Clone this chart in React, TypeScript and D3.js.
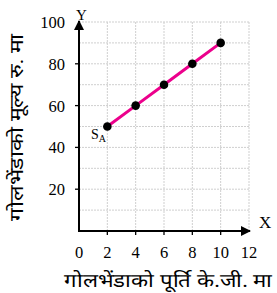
import * as d3 from "d3";
import { useEffect, useRef } from "react";

const supplyKg = [2, 4, 6, 8, 10];
const pricePerKg = [50, 60, 70, 80, 90];
const xTicks = [0, 2, 4, 6, 8, 10, 12];
const yTicks = [20, 40, 60, 80, 100];
const xGrid = [2, 4, 6, 8, 10, 12];
const yGrid = [10, 20, 30, 40, 50, 60, 70, 80, 90, 100];
const xTitle = "गोलभेंडाको पूर्ति के.जी. मा";
const yTitle = "गोलभेंडाको मूल्य रु. मा";

const W = 277;
const H = 293;
const FONT = "'Liberation Serif', 'Times New Roman', serif";

export default function App() {
  const ref = useRef<SVGSVGElement>(null);

  useEffect(() => {
    const svg = d3.select(ref.current);
    svg.selectAll("*").remove();

    const x = d3.scaleLinear().domain([0, 12]).range([79, 249]);
    const y = d3.scaleLinear().domain([0, 100]).range([231, 22]);

    // grid
    const grid = svg.append("g").attr("stroke", "#cfcfcf").attr("stroke-width", 1).attr("stroke-dasharray", "2,1");
    xGrid.forEach(v => {
      grid.append("line").attr("x1", x(v)).attr("x2", x(v)).attr("y1", y(0)).attr("y2", y(100));
    });
    yGrid.forEach(v => {
      grid.append("line").attr("x1", x(0)).attr("x2", x(12)).attr("y1", y(v)).attr("y2", y(v));
    });

    // arrow marker
    svg
      .append("defs")
      .append("marker")
      .attr("id", "arr")
      .attr("viewBox", "0 0 10 10")
      .attr("refX", 9)
      .attr("refY", 5)
      .attr("markerWidth", 5)
      .attr("markerHeight", 5)
      .attr("markerUnits", "strokeWidth")
      .attr("orient", "auto")
      .append("path")
      .attr("d", "M0,0 L10,5 L0,10 z")
      .attr("fill", "#000");

    // axes
    svg
      .append("line")
      .attr("x1", x(0)).attr("x2", x(12) + 1)
      .attr("y1", y(0)).attr("y2", y(0))
      .attr("stroke", "#000").attr("stroke-width", 2)
      .attr("marker-end", "url(#arr)");
    svg
      .append("line")
      .attr("x1", x(0)).attr("x2", x(0))
      .attr("y1", y(0) + 1).attr("y2", y(100) - 1)
      .attr("stroke", "#000").attr("stroke-width", 2)
      .attr("marker-end", "url(#arr)");

    // ticks
    const tk = svg.append("g").attr("stroke", "#000").attr("stroke-width", 1.3);
    xTicks.slice(1, -1).forEach(v => {
      tk.append("line").attr("x1", x(v)).attr("x2", x(v)).attr("y1", y(0)).attr("y2", y(0) + 4);
    });
    yTicks.slice(0, -1).forEach(v => {
      tk.append("line").attr("x1", x(0) - 4).attr("x2", x(0)).attr("y1", y(v)).attr("y2", y(v));
    });

    // tick labels
    svg
      .append("g")
      .selectAll("text")
      .data(xTicks)
      .join("text")
      .attr("x", d => x(d))
      .attr("y", 258)
      .attr("text-anchor", "middle")
      .attr("font-family", FONT)
      .attr("font-size", 16.5)
      .text(d => d);
    svg
      .append("g")
      .selectAll("text")
      .data(yTicks)
      .join("text")
      .attr("x", 65)
      .attr("y", d => y(d) + 6)
      .attr("text-anchor", "end")
      .attr("font-family", FONT)
      .attr("font-size", 16.5)
      .text(d => d);

    // axis letters
    svg.append("text").attr("x", 259).attr("y", 228).attr("font-family", FONT).attr("font-size", 17).text("X");
    svg.append("text").attr("x", 76).attr("y", 20).attr("font-family", FONT).attr("font-size", 15).text("Y");

    // supply line
    const pts = supplyKg.map((s, i) => [s, pricePerKg[i]] as [number, number]);
    svg
      .append("path")
      .datum(pts)
      .attr("fill", "none")
      .attr("stroke", "#ec008c")
      .attr("stroke-width", 3)
      .attr("d", d3.line().x(d => x(d[0])).y(d => y(d[1])));
    svg
      .append("g")
      .selectAll("circle")
      .data(pts)
      .join("circle")
      .attr("cx", d => x(d[0]))
      .attr("cy", d => y(d[1]))
      .attr("r", 4.3)
      .attr("fill", "#000");

    // S_A label
    const sa = svg.append("text").attr("x", 91).attr("y", 139).attr("font-family", FONT).attr("font-size", 14);
    sa.append("tspan").text("S");
    sa.append("tspan").attr("font-size", 10).attr("dy", 3).text("A");

    // titles
    svg
      .append("text")
      .attr("x", 168)
      .attr("y", 287)
      .attr("text-anchor", "middle")
      .attr("font-family", FONT)
      .attr("font-size", 19)
      .attr("textLength", 208)
      .attr("lengthAdjust", "spacingAndGlyphs")
      .text(xTitle);
    svg
      .append("text")
      .attr("transform", "translate(23,127) rotate(-90)")
      .attr("text-anchor", "middle")
      .attr("font-family", FONT)
      .attr("font-size", 19)
      .attr("textLength", 187)
      .attr("lengthAdjust", "spacingAndGlyphs")
      .text(yTitle);
  }, []);

  return <svg ref={ref} width={W} height={H} style={{ position: "absolute", left: 0, top: 0, background: "#fff" }} />;
}
